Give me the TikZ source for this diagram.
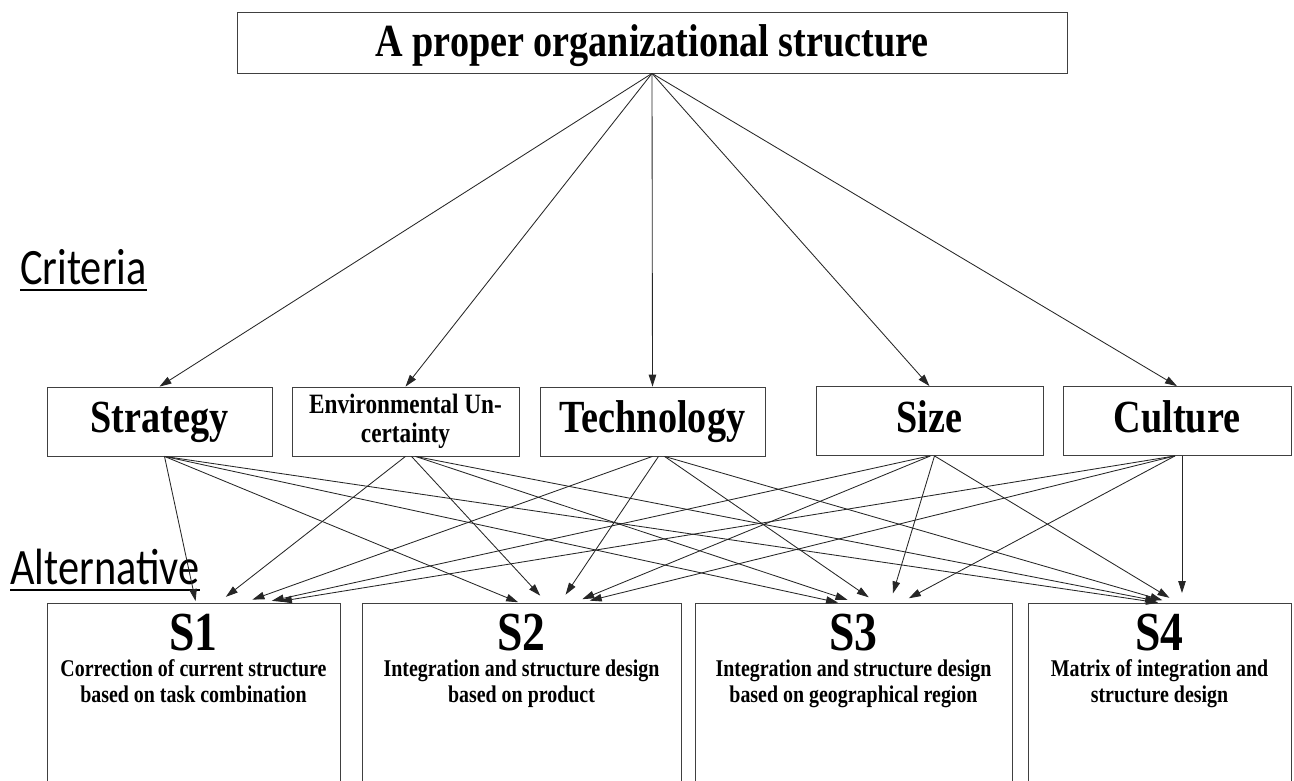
\documentclass[tikz,border=0pt]{standalone}
\usepackage{fontspec}
\setmainfont{Liberation Serif}[FakeStretch=0.83]
\newfontfamily\levelfont{Carlito}[FakeStretch=0.83]
\usetikzlibrary{arrows.meta, positioning}

\tikzset{
  goalbox/.style={draw=black!75, line width=0.8pt, minimum width=830pt, minimum height=61pt, inner sep=0pt, text height=33pt, text depth=6pt, font=\fontsize{46}{48}\selectfont\bfseries},
  critframe/.style={draw=black!75, line width=0.8pt, minimum height=69pt, inner sep=0pt},
  critbox/.style={critframe, text height=32pt, text depth=10pt, font=\fontsize{46}{48}\selectfont\bfseries},
  altbox/.style={draw=black!75, line width=0.8pt, anchor=north, minimum height=200pt, inner sep=0pt},
  altlabel/.style={anchor=north, inner sep=0pt, yshift=-11pt, align=center, font=\fontsize{24}{26}\selectfont\bfseries},
  levellabel/.style={anchor=base west, inner sep=0pt, font=\levelfont\fontsize{51}{53}\selectfont},
  link/.style={draw=black!85, line width=0.85pt, shorten >=2pt, -{Triangle[length=12pt, width=7.5pt]}}
}

\begin{document}
\begin{tikzpicture}[x=1pt, y=-1pt]
  \useasboundingbox (0,0) rectangle (1294,780);

  % Goal
  \node[goalbox] (goal) at (652,42.5) {A proper organizational structure};

  % Level labels
  \node[levellabel] (critlabel) at (20,284) {Criteria};
  \draw[line width=2.5pt] ([yshift=-6pt]critlabel.base west) -- ([yshift=-6pt]critlabel.base east);
  \node[levellabel] (altlabel) at (10,584) {Alternative};
  \draw[line width=2.5pt] ([yshift=-6pt]altlabel.base west) -- ([yshift=-6pt]altlabel.base east);

  % Criteria
  \node[critbox, minimum width=225pt] (strategy) at (159.5,421.5) {Strategy};
  \node[critframe, minimum width=227pt, align=center, font=\fontsize{28}{29}\selectfont\bfseries] (env) at (405.5,421.5) {Environmental Un-\\certainty};
  \node[critbox, minimum width=225pt] (tech) at (652.5,421.5) {Technology};
  \node[critbox, minimum width=227pt] (size) at (929.5,421) {Size};
  \node[critbox, minimum width=228pt] (culture) at (1177,421) {Culture};

  % Alternatives
  \node[altbox, minimum width=293pt, label={[altlabel]north:{{\fontsize{55}{55}\selectfont S1}\\Correction of current structure\\based on task combination}}] (s1) at (193.5,603) {};
  \node[altbox, minimum width=319pt, label={[altlabel]north:{{\fontsize{55}{55}\selectfont S2}\\Integration and structure design\\based on product}}] (s2) at (521.5,603) {};
  \node[altbox, minimum width=317pt, label={[altlabel]north:{{\fontsize{55}{55}\selectfont S3}\\Integration and structure design\\based on geographical region}}] (s3) at (853.5,603) {};
  \node[altbox, minimum width=263pt, label={[altlabel]north:{{\fontsize{55}{55}\selectfont S4}\\Matrix of integration and\\structure design}}] (s4) at (1159.5,603) {};

  % Goal to criteria
  \draw[link, shorten >=0pt] (goal.south) -- (strategy.north);
  \draw[link, shorten >=0pt] (goal.south) -- (env.north);
  \draw[link, shorten >=0pt] (goal.south) -- (tech.north);
  \draw[link, shorten >=0pt] (goal.south) -- (size.north);
  \draw[link, shorten >=0pt] (goal.south) -- (culture.north);

  % Strategy to alternatives
  \draw[link] ([xshift=5pt]strategy.south) -- ([xshift=2.5pt]s1.north);
  \draw[link] ([xshift=5pt]strategy.south) -- ([xshift=-1.5pt]s2.north);
  \draw[link] ([xshift=5pt]strategy.south) -- ([xshift=-13.5pt]s3.north);
  \draw[link] ([xshift=5pt]strategy.south) -- ([xshift=0.5pt]s4.north);

  % Environmental uncertainty to alternatives
  \draw[link, shorten >=10pt] ([xshift=0pt]env.south) -- ([xshift=24.5pt]s1.north);
  \draw[link, shorten >=10pt] ([xshift=6pt]env.south) -- ([xshift=25.5pt]s2.north);
  \draw[link, shorten >=10pt] ([xshift=10pt]env.south) -- ([xshift=3.5pt]s3.north);
  \draw[link, shorten >=10pt] ([xshift=10pt]env.south) -- ([xshift=7.5pt]s4.north);

  % Technology to alternatives
  \draw[link, shorten >=10pt] ([xshift=0pt]tech.south) -- ([xshift=49.5pt]s1.north);
  \draw[link, shorten >=10pt] ([xshift=6pt]tech.south) -- ([xshift=38.5pt]s2.north);
  \draw[link, shorten >=10pt] ([xshift=12pt]tech.south) -- ([xshift=23.5pt]s3.north);
  \draw[link, shorten >=10pt] ([xshift=12pt]tech.south) -- ([xshift=12.5pt]s4.north);

  % Size to alternatives
  \draw[link, shorten >=10pt] ([xshift=0pt]size.south) -- ([xshift=68.5pt]s1.north);
  \draw[link, shorten >=10pt] ([xshift=1pt]size.south) -- ([xshift=51.5pt]s2.north);
  \draw[link, shorten >=10pt] ([xshift=5pt]size.south) -- ([xshift=36.5pt]s3.north);
  \draw[link, shorten >=10pt] ([xshift=5pt]size.south) -- ([xshift=18.5pt]s4.north);

  % Culture to alternatives
  \draw[link, shorten >=10pt] ([xshift=-2pt]culture.south) -- ([xshift=76.5pt]s1.north);
  \draw[link, shorten >=10pt] ([xshift=-2pt]culture.south) -- ([xshift=58.5pt]s2.north);
  \draw[link, shorten >=10pt] ([xshift=-2pt]culture.south) -- ([xshift=46.5pt]s3.north);
  \draw[link, shorten >=10pt] ([xshift=5pt]culture.south) -- ([xshift=22.5pt]s4.north);
\end{tikzpicture}
\end{document}
